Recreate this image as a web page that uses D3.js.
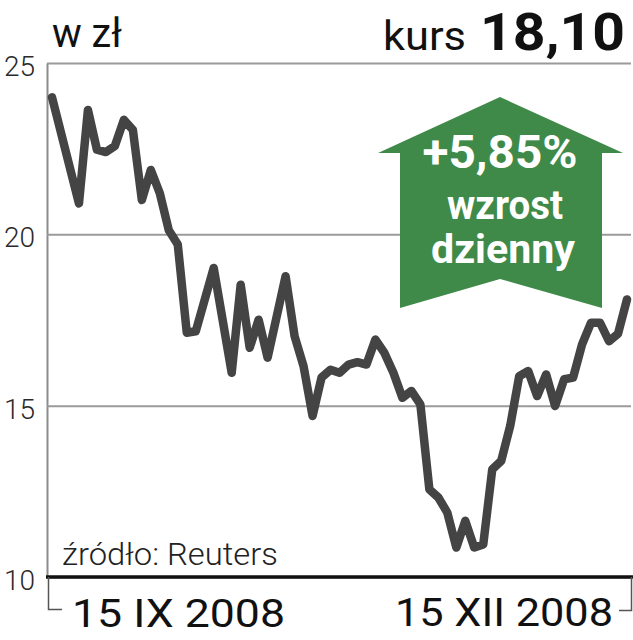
<!DOCTYPE html>
<html>
<head>
<meta charset="utf-8">
<script src="https://cdn.jsdelivr.net/npm/d3@7"></script>
<style>
  body { margin: 0; background: #fff; }
  svg { display: block; }
  text { font-family: Roboto, "Liberation Sans", sans-serif; }
</style>
</head>
<body>
<script>
// trading-day index (0 = 15 IX 2008, 64 = 15 XII 2008) of each turning point
const days = [0, 3, 4, 5, 6, 7, 8, 9, 10, 11, 12, 13, 14, 15, 16, 18, 20, 21, 22, 23, 24,
  26, 27, 28, 29, 30, 31, 32, 33, 34, 35, 36, 37, 38, 39, 40, 41, 42, 43, 44, 45, 46, 47,
  48, 49, 50, 51, 52, 53, 54, 55, 56, 57, 58, 59, 60, 61, 62, 63, 64];
const prices = [24.0, 20.9, 23.63, 22.47, 22.4, 22.58, 23.34, 23.05, 21.0, 21.88, 21.2, 20.12,
  19.7, 17.13, 17.17, 19.02, 15.96, 18.53, 16.69, 17.51, 16.4,
  18.78, 17.03, 16.15, 14.7, 15.82, 16.05, 15.96, 16.2, 16.27, 16.2, 16.93, 16.54, 15.96,
  15.23, 15.43, 15.04, 12.56, 12.32, 11.88, 10.86, 11.64, 10.86, 10.95, 13.14, 13.39, 14.41,
  15.86, 16.01, 15.28, 15.91, 14.99, 15.77, 15.82, 16.79, 17.42, 17.42, 16.88, 17.10, 18.10];
const yTicks = [10, 15, 20, 25];
const dateLabels = ["15 IX 2008", "15 XII 2008"];
const lastPrice = "18,10";
const change = "+5,85%";

const W = 633, H = 640;
const svg = d3.select("body").append("svg").attr("width", W).attr("height", H);

const x = d3.scaleLinear().domain([0, 64]).range([52, 627]);
const y = d3.scaleLinear().domain([10, 25]).range([577, 63]);

// y axis with gridlines
const yAxis = svg.append("g")
  .attr("transform", "translate(47,0)")
  .call(d3.axisLeft(y).tickValues(yTicks).tickSizeInner(-584).tickSizeOuter(0).tickPadding(12));
yAxis.select(".domain").attr("stroke", "#8c8c8c").attr("stroke-width", 2);
yAxis.selectAll(".tick line").attr("stroke", "#9a9a9a").attr("stroke-width", 2);
yAxis.selectAll(".tick text")
  .attr("font-size", 28)
  .attr("font-weight", 300)
  .attr("fill", "#2a2a2a")
  .attr("dy", "0.45em")
  .style("font-family", "Roboto, 'Liberation Sans', sans-serif");

// green arrow
const arrow = [[500, 97], [623, 153], [602, 153], [602, 308], [500, 279],
  [400, 308], [400, 153], [378, 153]];
svg.append("path")
  .attr("d", d3.line()(arrow) + "Z")
  .attr("fill", "#3f8a48");

svg.append("text").attr("x", 500).attr("y", 168).attr("text-anchor", "middle")
  .attr("font-size", 46).attr("font-weight", 700).attr("fill", "#fff")
  .attr("textLength", 155).attr("lengthAdjust", "spacingAndGlyphs")
  .text(change);
svg.append("text").attr("x", 505).attr("y", 219).attr("text-anchor", "middle")
  .attr("font-size", 41).attr("font-weight", 700).attr("fill", "#fff")
  .attr("textLength", 116).attr("lengthAdjust", "spacingAndGlyphs")
  .text("wzrost");
svg.append("text").attr("x", 503).attr("y", 263).attr("text-anchor", "middle")
  .attr("font-size", 41).attr("font-weight", 700).attr("fill", "#fff")
  .attr("textLength", 144).attr("lengthAdjust", "spacingAndGlyphs")
  .text("dzienny");

// price line
const line = d3.line()
  .x((d, i) => x(days[i]))
  .y(d => y(d));
svg.append("path")
  .datum(prices)
  .attr("d", line)
  .attr("fill", "none")
  .attr("stroke", "#444444")
  .attr("stroke-width", 8.5)
  .attr("stroke-linejoin", "round")
  .attr("stroke-linecap", "round");

// bottom axis and end brackets
svg.append("line").attr("x1", 46).attr("x2", 633).attr("y1", y(10)).attr("y2", y(10))
  .attr("stroke", "#111").attr("stroke-width", 3.5);
svg.append("path").attr("d", "M48.5,577V609.5H62")
  .attr("fill", "none").attr("stroke", "#555").attr("stroke-width", 1.5);
svg.append("path").attr("d", "M619,610.5H631.5V577")
  .attr("fill", "none").attr("stroke", "#555").attr("stroke-width", 1.5);

svg.append("text").attr("x", 72).attr("y", 627)
  .attr("font-size", 38).attr("fill", "#111")
  .attr("textLength", 213).attr("lengthAdjust", "spacingAndGlyphs")
  .text(dateLabels[0]);
svg.append("text").attr("x", 395).attr("y", 626)
  .attr("font-size", 38).attr("fill", "#111")
  .attr("textLength", 218).attr("lengthAdjust", "spacingAndGlyphs")
  .text(dateLabels[1]);

// titles
svg.append("text").attr("x", 52).attr("y", 47)
  .attr("font-size", 40).attr("fill", "#111")
  .attr("textLength", 70).attr("lengthAdjust", "spacingAndGlyphs")
  .text("w zł");
svg.append("text").attr("x", 383).attr("y", 50)
  .attr("font-size", 40).attr("fill", "#111")
  .attr("textLength", 83).attr("lengthAdjust", "spacingAndGlyphs")
  .text("kurs");
svg.append("text").attr("x", 480).attr("y", 50)
  .attr("font-size", 51).attr("font-weight", 700).attr("fill", "#111")
  .attr("textLength", 145).attr("lengthAdjust", "spacingAndGlyphs")
  .text(lastPrice);

// source
svg.append("text").attr("x", 62).attr("y", 565)
  .attr("font-size", 31).attr("font-weight", 300).attr("fill", "#222")
  .attr("textLength", 216).attr("lengthAdjust", "spacingAndGlyphs")
  .text("źródło: Reuters");
</script>
</body>
</html>
